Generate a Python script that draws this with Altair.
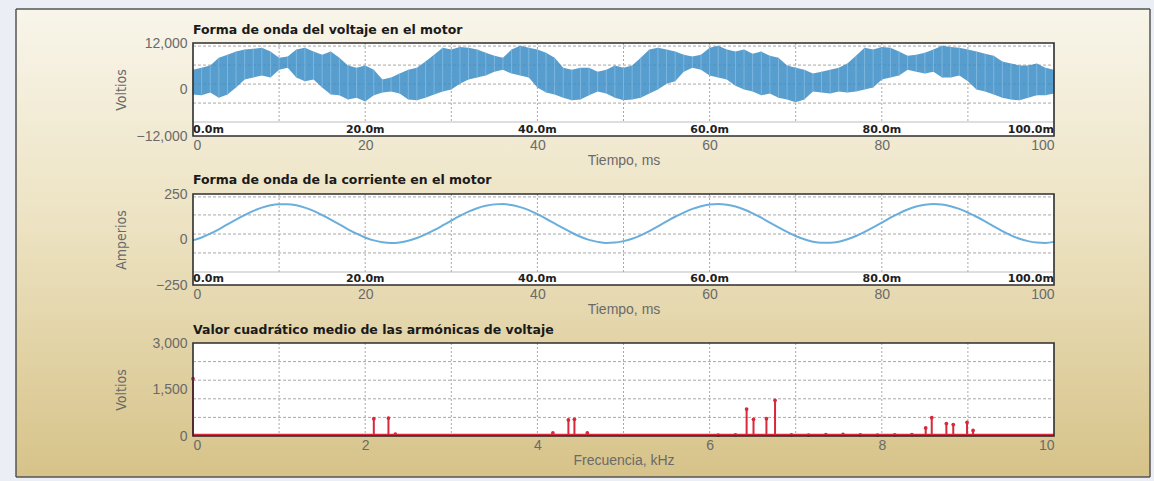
import altair as alt
import pandas as pd

# ---------------- data ----------------
time_ms = list(range(101))

# upper / lower envelope of the PWM voltage trace (V), one pair per ms
volt_hi = [5100, 5600, 6200, 8200, 9000, 9800, 10300, 10500, 10800, 9800,
           8200, 8500, 10300, 10800, 9800, 9000, 9800, 8200, 6200, 5600,
           6200, 5100, 2600, 3100, 4100, 5100, 5600, 7200, 9000, 10800,
           10300, 11000, 10800, 10300, 9500, 8700, 8200, 10300, 11300, 10800,
           10300, 9500, 8200, 5600, 5100, 5600, 5600, 4600, 5100, 6200,
           5600, 6200, 8200, 10300, 10800, 10300, 9800, 9000, 8500, 9000,
           10800, 11300, 10300, 9800, 10300, 9200, 9800, 8700, 8200, 6200,
           5600, 5100, 4100, 4600, 5100, 5600, 6700, 8700, 10800, 10300,
           11000, 10800, 9800, 8700, 9000, 9500, 10300, 11300, 11000, 10800,
           10300, 9800, 9200, 8700, 7200, 6700, 6200, 6200, 6700, 5600,
           5100]
volt_lo = [-1300, -1500, -800, -2100, -1300, 500, 2600, 3100, 3600, 3100,
           5100, 5600, 3100, 2100, 2600, 500, -1300, -1500, -2600, -2100,
           -3100, -1500, -800, -500, -1000, -2600, -2800, -2100, -1300, -500,
           0, 1500, 2600, 3100, 3600, 4600, 5100, 4100, 3600, 3100,
           500, -800, -1300, -2100, -2800, -2600, -1500, -500, -1000, -2100,
           -2800, -2600, -2100, -1000, 0, 1500, 2100, 4600, 5600, 5100,
           3600, 3100, 2600, 1000, 0, -500, -1500, -1000, -2100, -2600,
           -3300, -2600, -500, -800, -1000, -500, -800, -500, 0, 500,
           2600, 3100, 3600, 5100, 4600, 4100, 4600, 3100, 3100, 3600,
           2100, 0, -500, -1300, -2100, -2600, -2800, -2100, -1500, -1500,
           -1000]

# motor current (A), one value per ms
current_a = [-5, 11, 32, 56, 83, 109, 134, 157, 175, 188,
             194, 194, 188, 175, 157, 134, 109, 83, 56, 32,
             11, -5, -15, -19, -16, -7, 8, 28, 51, 77,
             104, 130, 153, 172, 185, 193, 195, 189, 178, 161,
             139, 114, 88, 62, 37, 15, -2, -13, -19, -17,
             -9, 4, 23, 46, 72, 99, 125, 148, 168, 183,
             192, 195, 191, 181, 165, 144, 120, 93, 67, 42,
             19, 1, -12, -18, -18, -12, 1, 19, 42, 67,
             93, 120, 144, 165, 181, 191, 195, 192, 183, 168,
             148, 125, 99, 72, 46, 23, 4, -9, -17, -19,
             -13]

# RMS voltage harmonics
harm_khz = [0.0, 2.10, 2.27, 2.35, 4.18, 4.36, 4.43, 4.58, 6.10, 6.30,
            6.43, 6.51, 6.66, 6.76, 6.95, 7.15, 7.35, 7.55, 7.75, 7.95,
            8.15, 8.35, 8.51, 8.58, 8.75, 8.83, 8.99, 9.06]
harm_v = [1850, 560, 580, 60, 100, 520, 540, 100, 25, 40,
          870, 540, 560, 1150, 40, 30, 45, 50, 40, 30,
          35, 45, 260, 590, 400, 370, 440, 180]

titles = ["Forma de onda del voltaje en el motor",
          "Forma de onda de la corriente en el motor",
          "Valor cuadrático medio de las armónicas de voltaje"]
time_ticks = [0, 20, 40, 60, 80, 100]
time_grid = [10, 20, 30, 40, 50, 60, 70, 80, 90]
strip_labels = ["0.0m", "20.0m", "40.0m", "60.0m", "80.0m", "100.0m"]
freq_ticks = [0, 2, 4, 6, 8, 10]
freq_grid = [1, 2, 3, 4, 5, 6, 7, 8, 9]
volt_ticks = [-12000, 0, 12000]
amp_ticks = [-250, 0, 250]
rms_ticks = [0, 1500, 3000]
volt_grid = [11200, 6300, 1400, -3500]
amp_grid = [234, 135, 30, -74]
rms_grid = [600, 1200, 1800, 2400]

# ---------------- styling / layout ----------------
W = 861
H1, H2, H3 = 93, 91, 93
O1, O2, O3 = 43, 194, 343          # plot tops in page pixels
BANDS = [(0, 170), (170, 322), (322, 481)]
FRAME_Y = (9, 477)
FRAME_X = (16, 1150)
X0 = 193
GRID_C = "#a8a8a8"
BLUE = "#3a8cc5"
RED = "#d8283a"
LBL = "#6a6a6a"
NARROW = "Liberation Sans Narrow, DejaVu Sans Condensed, Liberation Sans, sans-serif"

one = pd.DataFrame({"k": [0]})
stops = [{"offset": 0, "color": "#f8f5ea"},
         {"offset": 0.45, "color": "#ede3c3"},
         {"offset": 1, "color": "#d7c389"}]


def backdrop(origin, band, h, top_line=False, bottom_line=False):
    by0, by1 = band[0] - origin, band[1] - origin
    fy0 = max(band[0], FRAME_Y[0]) - origin
    fy1 = min(band[1], FRAME_Y[1]) - origin
    fh = fy1 - fy0
    grad = {"gradient": "linear", "x1": 0, "x2": 0,
            "y1": (FRAME_Y[0] - origin - fy0) / fh,
            "y2": (FRAME_Y[1] - origin - fy0) / fh,
            "stops": stops}
    fx0, fx1 = FRAME_X[0] - X0, FRAME_X[1] - X0
    layers = [
        alt.Chart(one).mark_rect(fill="#eceef6").encode(
            x=alt.value(-X0), x2=alt.value(1154 - X0), y=alt.value(by0), y2=alt.value(by1)),
        alt.Chart(one).mark_rect(fill=grad).encode(
            x=alt.value(fx0), x2=alt.value(fx1), y=alt.value(fy0), y2=alt.value(fy1)),
        alt.Chart(one).mark_rule(color="#555555", strokeWidth=1.5).encode(
            x=alt.value(fx0), y=alt.value(fy0), y2=alt.value(fy1)),
        alt.Chart(one).mark_rule(color="#555555", strokeWidth=1.5).encode(
            x=alt.value(fx1), y=alt.value(fy0), y2=alt.value(fy1)),
    ]
    if top_line:
        layers.append(alt.Chart(one).mark_rule(color="#555555", strokeWidth=1.5).encode(
            x=alt.value(fx0), x2=alt.value(fx1), y=alt.value(fy0)))
    if bottom_line:
        layers.append(alt.Chart(one).mark_rule(color="#555555", strokeWidth=1.5).encode(
            x=alt.value(fx0), x2=alt.value(fx1), y=alt.value(fy1)))
    layers.append(alt.Chart(one).mark_rect(fill="white").encode(
        x=alt.value(0), x2=alt.value(W), y=alt.value(0), y2=alt.value(h)))
    return layers


def border(h):
    return alt.Chart(one).mark_rect(fillOpacity=0, stroke="#2e2e2e", strokeWidth=1.6).encode(
        x=alt.value(0), x2=alt.value(W), y=alt.value(0), y2=alt.value(h))


def title_mark(txt, y):
    return alt.Chart(one).mark_text(
        align="left", baseline="alphabetic", font="DejaVu Sans", fontSize=12.5,
        fontWeight="bold", color="#1a1a1a").encode(
        x=alt.value(0), y=alt.value(y), text=alt.value(txt))


AX_COMMON = dict(zindex=1, grid=False, domain=False, ticks=False,
                 labelFont="Liberation Sans", labelFontSize=14, labelColor=LBL,
                 titleFontWeight="normal", titleColor=LBL)


def make_enc(dom, vals, ttl, is_x):
    sc = alt.Scale(domain=dom, nice=False, zero=False)
    if is_x:
        ax = alt.Axis(values=vals, title=ttl, labelPadding=2, titleFont="Liberation Sans",
                      titleFontSize=14, titlePadding=1, **AX_COMMON)
        return lambda f: alt.X(f, scale=sc, axis=ax)
    ax = alt.Axis(values=vals, format=",d", title=ttl, titleX=-65, labelPadding=6,
                  titleFont=NARROW, titleFontSize=14, **AX_COMMON)
    return lambda f: alt.Y(f, scale=sc, axis=ax)


def strip_layers(h, strip_y, X):
    sdf = pd.DataFrame({"t": time_ticks, "lab": strip_labels})
    base = alt.Chart(sdf)
    common = dict(baseline="middle", font="DejaVu Sans", fontWeight="bold",
                  fontSize=11, color="#1e1e1e", clip=True)
    ly = alt.value((h + strip_y) / 2 + 0.5)
    return [
        alt.Chart(one).mark_rule(color="#bdbdbd", strokeWidth=1).encode(
            x=alt.value(0), x2=alt.value(W), y=alt.value(strip_y)),
        base.transform_filter("datum.t == 0").mark_text(align="left", **common).encode(
            x=X("t:Q"), y=ly, text="lab:N"),
        base.transform_filter("datum.t > 0 && datum.t < 100").mark_text(align="center", **common).encode(
            x=X("t:Q"), y=ly, text="lab:N"),
        base.transform_filter("datum.t == 100").mark_text(align="right", **common).encode(
            x=X("t:Q"), y=ly, text="lab:N"),
    ]


def grids(xvals, yvals, X, Y, y_bottom):
    hg = alt.Chart(pd.DataFrame({"v": yvals})).mark_rule(
        color=GRID_C, strokeDash=[3, 2], strokeWidth=1).encode(
        y=Y("v:Q"), x=alt.value(0), x2=alt.value(W))
    vg = alt.Chart(pd.DataFrame({"t": xvals})).mark_rule(
        color=GRID_C, strokeDash=[2, 2], strokeWidth=1).encode(
        x=X("t:Q"), y=alt.value(0), y2=alt.value(y_bottom))
    return [hg, vg]


# ---------------- panel 1 : voltage ----------------
X1 = make_enc([0, 100], time_ticks, "Tiempo, ms", True)
Y1 = make_enc([-12000, 12000], volt_ticks, "Voltios", False)
vdf = pd.DataFrame({"t": time_ms, "hi": volt_hi, "lo": volt_lo})
volt_area = alt.Chart(vdf).mark_area(color=BLUE, opacity=0.85, interpolate="linear").encode(
    x=X1("t:Q"), y=Y1("hi:Q"), y2="lo:Q")
volt_spk = alt.Chart(vdf).mark_rule(color="#86bde3", strokeWidth=1, opacity=0.8).encode(
    x=X1("t:Q"), y=Y1("hi:Q"), y2="lo:Q")
p1 = alt.layer(
    *backdrop(O1, BANDS[0], H1, top_line=True),
    *grids(time_grid, volt_grid, X1, Y1, 79),
    *strip_layers(H1, 79, X1),
    volt_area, volt_spk,
    border(H1),
    title_mark(titles[0], -9.5),
).properties(width=W, height=H1)

# ---------------- panel 2 : current ----------------
X2 = make_enc([0, 100], time_ticks, "Tiempo, ms", True)
Y2 = make_enc([-250, 250], amp_ticks, "Amperios", False)
cdf = pd.DataFrame({"t": time_ms, "a": current_a})
cur = alt.Chart(cdf).mark_line(color="#5aa6d8", strokeWidth=2, opacity=0.9,
                               interpolate="monotone").encode(
    x=X2("t:Q"), y=Y2("a:Q"))
p2 = alt.layer(
    *backdrop(O2, BANDS[1], H2),
    *grids(time_grid, amp_grid, X2, Y2, 78),
    *strip_layers(H2, 78, X2),
    cur,
    border(H2),
    title_mark(titles[1], -10),
).properties(width=W, height=H2)

# ---------------- panel 3 : harmonics ----------------
X3 = make_enc([0, 10], freq_ticks, "Frecuencia, kHz", True)
Y3 = make_enc([0, 3000], rms_ticks, "Voltios", False)
hdf = pd.DataFrame({"f": harm_khz, "v": harm_v})
stems = alt.Chart(hdf).mark_rule(color=RED, strokeWidth=2).encode(
    x=X3("f:Q"), y=Y3("v:Q"), y2=alt.datum(0))
caps = alt.Chart(hdf).mark_point(color=RED, filled=True, size=14, opacity=1).encode(
    x=X3("f:Q"), y=Y3("v:Q"))
base_line = alt.Chart(one).mark_rule(color=RED, strokeWidth=2.5).encode(
    x=alt.value(0), x2=alt.value(W), y=alt.value(H3 - 1))
p3 = alt.layer(
    *backdrop(O3, BANDS[2], H3, bottom_line=True),
    *grids(freq_grid, rms_grid, X3, Y3, H3),
    stems, caps, base_line,
    border(H3),
    title_mark(titles[2], -9),
).properties(width=W, height=H3)

chart = alt.vconcat(p1, p2, p3, spacing=58).properties(
    padding=0, bounds="flush", background="#eceef6"
).configure_view(strokeWidth=0)

chart.save("out.html", embed_options={"renderer": "svg", "actions": False})
